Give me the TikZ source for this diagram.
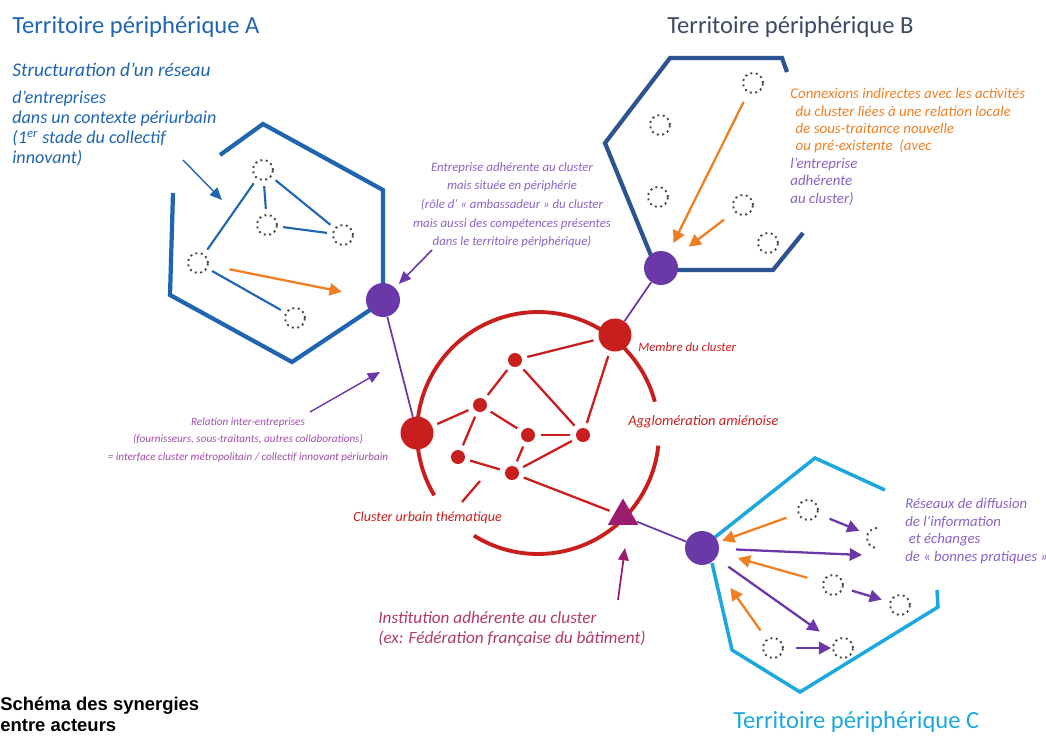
\documentclass[tikz,border=0pt]{standalone}
\usepackage{fontspec}
\setmainfont{Carlito}
\newfontfamily\capfont{Liberation Sans}
\usetikzlibrary{arrows.meta,shapes.geometric}
\definecolor{blueA}{HTML}{1F65B0}
\definecolor{blueB}{HTML}{2D5490}
\definecolor{blueC}{HTML}{1CA8DE}
\definecolor{titleB}{HTML}{3B4A63}
\definecolor{redC}{HTML}{C81E1E}
\definecolor{violetD}{HTML}{6B38A8}
\definecolor{lilac}{HTML}{8A62C2}
\definecolor{mauve}{HTML}{A04EA8}
\definecolor{orangeL}{HTML}{EF7F22}
\definecolor{plum}{HTML}{9B1D6F}
\definecolor{rosetext}{HTML}{B03A6A}
\definecolor{firmgray}{HTML}{3E4A44}

\begin{document}
\begin{tikzpicture}[x=0.02cm, y=-0.02cm,
firm/.style={circle, draw=firmgray, dotted, line width=1.1pt, minimum size=0.4cm, inner sep=0pt},
amb/.style={circle, fill=violetD, minimum size=0.68cm, inner sep=0pt},
bigred/.style={circle, fill=redC, minimum size=0.66cm, inner sep=0pt},
smallred/.style={circle, fill=redC, minimum size=0.28cm, inner sep=0pt},
redlink/.style={draw=redC, line width=1.3pt, shorten <=3pt, shorten >=3pt},
bluelink/.style={draw=blueA, line width=1.2pt, shorten <=3pt, shorten >=3pt},
oarrow/.style={draw=orangeL, line width=1.3pt, -{Triangle[length=7pt,width=7pt]}},
varrow/.style={draw=violetD, line width=1.3pt, -{Triangle[length=7pt,width=7pt]}},
title/.style={anchor=west, inner sep=0pt, font=\fontsize{14}{16}\selectfont},
note/.style={inner sep=0pt, font=\fontsize{7}{10}\selectfont\itshape}]
\useasboundingbox (0,0) rectangle (1046,738);

% titles
\node[title, text=blueA] (titA) at (12,27) {Territoire périphérique A};
\node[title, text=titleB] (titB) at (667,27) {Territoire périphérique B};
\node[title, text=blueC] (titC) at (733,722) {Territoire périphérique C};
\node[anchor=north west, inner sep=0pt, font=\capfont\bfseries\fontsize{10.5}{11.5}\selectfont, align=left] (cap) at (0,697)
  {Schéma des synergies\\entre acteurs};

% territoire A
\draw[blueA, line width=2.4pt] (220,155) -- (263,124) -- (383,190) -- (383,290);
\draw[blueA, line width=2.4pt] (173,193) -- (170,295) -- (292,362) -- (370,310);
\node[firm] (a1) at (263,170) {};
\node[firm] (a2) at (267,225) {};
\node[firm] (a3) at (343,235) {};
\node[firm] (a4) at (198,263) {};
\node[firm] (a5) at (295,318) {};
\foreach \p/\q in {a1/a4, a1/a2, a1/a3, a2/a3, a4/a5}
  \draw[bluelink] (\p) -- (\q);
\node[amb] (ambA) at (383,300) {};
\draw[oarrow, shorten <=12pt, shorten >=14pt] (a4) -- (ambA);
\node[note, anchor=west, text=blueA, font=\fontsize{11}{13}\selectfont\itshape] (txtA1) at (12,70) {Structuration d'un réseau};
\node[note, anchor=north west, text=blueA, align=left, font=\fontsize{10.3}{11.3}\selectfont\itshape] (txtA2) at (12,91)
  {d'entreprises\\dans un contexte périurbain\\(1\textsuperscript{er} stade du collectif\\innovant)};
\coordinate (tipA0) at (183,160);
\coordinate (tipA1) at (222,200);
\draw[blueA, line width=0.8pt, -{Triangle[length=7pt,width=6pt]}] (tipA0) -- (tipA1);

% territoire B
\draw[blueB, line width=2.4pt] (787,72) -- (782,58) -- (670,58) -- (605,143) -- (652,258);
\draw[blueB, line width=2.4pt] (675,270) -- (773,270) -- (803,233);
\node[firm] (b1) at (753,83) {};
\node[firm] (b2) at (660,125) {};
\node[firm] (b3) at (658,197) {};
\node[firm] (b4) at (743,205) {};
\node[firm] (b5) at (768,243) {};
\node[amb] (ambB) at (661,268) {};
\draw[oarrow, shorten <=5.7pt, shorten >=6pt] (b1) -- (ambB);
\draw[oarrow, shorten <=7.4pt, shorten >=10pt] (b4) -- (ambB);
\node[note, anchor=north west, align=left, text=orangeL, font=\fontsize{8.5}{9.9}\selectfont\itshape] (txtB) at (790,88)
  {Connexions indirectes avec les activités\\
   \hspace{3pt}du cluster liées à une relation locale\\
   \hspace{3pt}de sous-traitance nouvelle\\
   \hspace{3pt}ou pré-existente~ (avec\\
   \textcolor{lilac}{l'entreprise}\\
   \textcolor{lilac}{adhérente}\\
   \textcolor{lilac}{au cluster)}};

% territoire C
\draw[blueC, line width=2pt] (885,490) -- (815,458) -- (714,538);
\draw[blueC, line width=2pt] (712,563) -- (732,650) -- (800,692) -- (938,607) -- (937,590);
\node[firm] (c1) at (808,510) {};
\coordinate (c2) at (877,538);
\draw[firmgray, dotted, line width=1.1pt] (877,528) arc[start angle=90, end angle=270, radius=0.2cm];
\node[firm] (c3) at (833,585) {};
\node[firm] (c4) at (900,605) {};
\node[firm] (c5) at (773,648) {};
\node[firm] (c6) at (843,648) {};
\node[amb] (ambC) at (702,548) {};
\coordinate (c2w) at (862,555);
\draw[oarrow, shorten <=6.8pt, shorten >=2.3pt] (c1) -- (ambC);
\draw[oarrow, shorten <=9pt, shorten >=11.3pt] (c3) -- (ambC);
\draw[oarrow, shorten <=6pt, shorten >=18pt] (c5) -- (ambC);
\draw[varrow, shorten <=7pt, shorten >=10.8pt] (c1) -- (c2);
\draw[varrow, shorten <=9.5pt] (ambC) -- (c2w);
\draw[varrow, shorten <=8.5pt, shorten >=10pt] (ambC) -- (c6);
\draw[varrow, shorten <=5pt, shorten >=4.5pt] (c3) -- (c4);
\draw[varrow, shorten <=7pt, shorten >=0.5pt] (c5) -- (c6);
\node[note, anchor=north west, align=left, text=lilac, font=\fontsize{8.4}{10}\selectfont\itshape] (txtC) at (905,498)
  {Réseaux de diffusion\\de l'information\\\hspace{2pt}et échanges\\de « bonnes pratiques »};

% agglomeration
\coordinate (ctr) at (538,433);
\draw[redC, line width=2.2pt] ([shift={(15:2.42cm)}]ctr) arc[start angle=15, end angle=211, radius=2.42cm];
\draw[redC, line width=2.2pt] ([shift={(238:2.42cm)}]ctr) arc[start angle=238, end angle=354, radius=2.42cm];
\node[bigred] (membre) at (615,335) {};
\node[bigred] (pivot) at (417,433) {};
\node[smallred] (r1) at (515,360) {};
\node[smallred] (r2) at (480,405) {};
\node[smallred] (r3) at (528,435) {};
\node[smallred] (r4) at (583,435) {};
\node[smallred] (r5) at (458,457) {};
\node[smallred] (r6) at (512,473) {};
\node[regular polygon, regular polygon sides=3, fill=plum, minimum size=0.7cm, inner sep=0pt] (inst) at (623,516) {};
\foreach \p/\q in {r1/membre, r1/r2, r1/r4, membre/r4, pivot/r2, r2/r3, r2/r5, r3/r4, r3/r6, r6/r4, r5/r6, r6/inst}
  \draw[redlink] (\p) -- (\q);
\coordinate (stub0) at (480,481);
\coordinate (stub1) at (462,502);
\draw[redC, line width=1.3pt] (stub0) -- (stub1);
\draw[violetD, line width=1pt] (ambA) -- (pivot);
\draw[violetD, line width=1pt] (ambB) -- (membre);
\draw[violetD, line width=1pt] (inst) -- (ambC);
\node[note, anchor=west, text=redC, font=\fontsize{7.3}{9}\selectfont\itshape] (lblM) at (638,347) {Membre du cluster};
\node[note, anchor=west, text=redC, font=\fontsize{8.2}{10}\selectfont\itshape] (lblAg) at (628,422) {Agglomération amiénoise};
\node[note, anchor=west, text=redC, font=\fontsize{8}{9}\selectfont\itshape] (lblCl) at (353,518) {Cluster urbain thématique};

% annotations
\node[note, align=center, text=lilac, font=\fontsize{7.3}{10.6}\selectfont\itshape] (txtE) at (512,205)
  {Entreprise adhérente au cluster\\mais située en périphérie\\(rôle d' « ambassadeur » du cluster\\mais aussi des compétences présentes\\dans le territoire périphérique)};
\coordinate (tipE) at (432,250);
\draw[violetD, line width=0.9pt, shorten >=3pt, -{Triangle[length=7pt,width=6pt]}] (tipE) -- (ambA);
\node[note, align=center, text=mauve, font=\fontsize{6.35}{10.2}\selectfont\itshape] (txtR) at (248,440)
  {Relation inter-entreprises\\(fournisseurs, sous-traitants, autres collaborations)\\= interface cluster métropolitain / collectif innovant périurbain};
\coordinate (tipR0) at (310,412);
\coordinate (tipR1) at (380,372);
\draw[violetD, line width=0.8pt, -{Triangle[length=7pt,width=6pt]}] (tipR0) -- (tipR1);
\node[note, anchor=north west, align=left, text=rosetext, font=\fontsize{9.8}{11.3}\selectfont\itshape] (txtI) at (378,611)
  {Institution adhérente au cluster\\(ex: Fédération française du bâtiment)};
\coordinate (tipI) at (618,600);
\draw[plum, line width=1pt, -{Triangle[length=7pt,width=6pt]}] (tipI) -- (625,548);
\end{tikzpicture}
\end{document}
